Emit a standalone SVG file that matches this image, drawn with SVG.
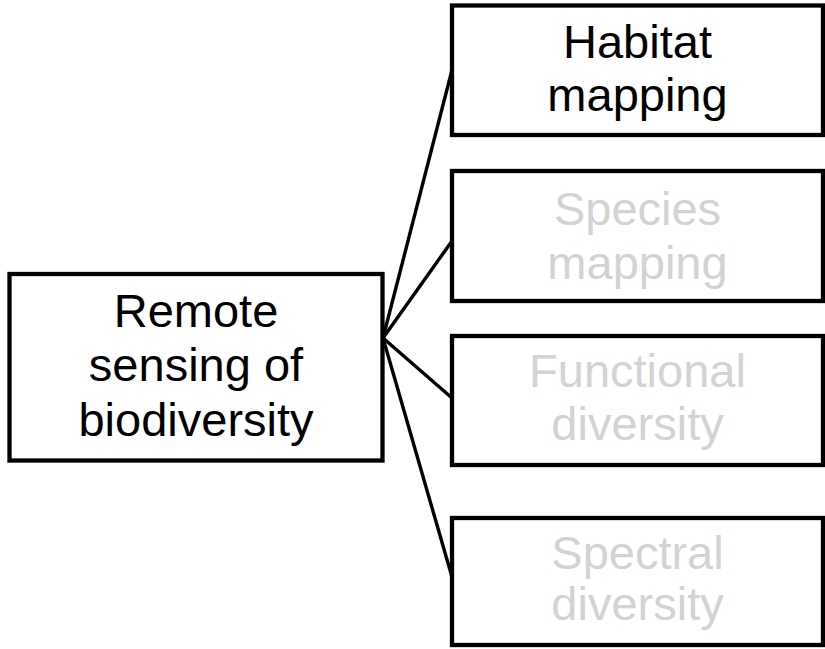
<svg xmlns="http://www.w3.org/2000/svg" width="825" height="649" viewBox="0 0 825 649">
  <style>
    .box { fill: #ffffff; stroke: #000000; stroke-width: 4.3; }
    .label { font-family: "Liberation Sans", Arial, sans-serif; font-size: 47px; text-anchor: middle; }
    .dark { fill: #000000; }
    .muted { fill: #d3d3d3; }
    .link { stroke: #000000; stroke-width: 3.4; fill: none; }
  </style>
  <rect width="825" height="649" fill="#ffffff"/>

  <!-- connectors fanning out from the root box -->
  <g id="connectors">
    <line class="link" x1="383" y1="338" x2="452" y2="70"/>
    <line class="link" x1="383" y1="338" x2="452" y2="241"/>
    <line class="link" x1="383" y1="338" x2="452" y2="398"/>
    <line class="link" x1="383" y1="338" x2="452" y2="577"/>
  </g>

  <g id="root">
    <rect class="box" x="9.5" y="274" width="373" height="186.5"/>
    <text class="label dark" x="196" y="327">Remote</text>
    <text class="label dark" x="196" y="381">sensing of</text>
    <text class="label dark" x="196" y="436">biodiversity</text>
  </g>

  <g id="habitat">
    <rect class="box" x="452" y="5.5" width="371" height="129.5"/>
    <text class="label dark" x="637.5" y="57.5">Habitat</text>
    <text class="label dark" x="637.5" y="110.5">mapping</text>
  </g>

  <g id="species">
    <rect class="box" x="452" y="171" width="371" height="130"/>
    <text class="label muted" x="637.5" y="225">Species</text>
    <text class="label muted" x="637.5" y="278.5">mapping</text>
  </g>

  <g id="functional">
    <rect class="box" x="452" y="336" width="371" height="129"/>
    <text class="label muted" x="637.5" y="386.5">Functional</text>
    <text class="label muted" x="637.5" y="440">diversity</text>
  </g>

  <g id="spectral">
    <rect class="box" x="452" y="518" width="371" height="127"/>
    <text class="label muted" x="637.5" y="568.5">Spectral</text>
    <text class="label muted" x="637.5" y="620">diversity</text>
  </g>
</svg>
